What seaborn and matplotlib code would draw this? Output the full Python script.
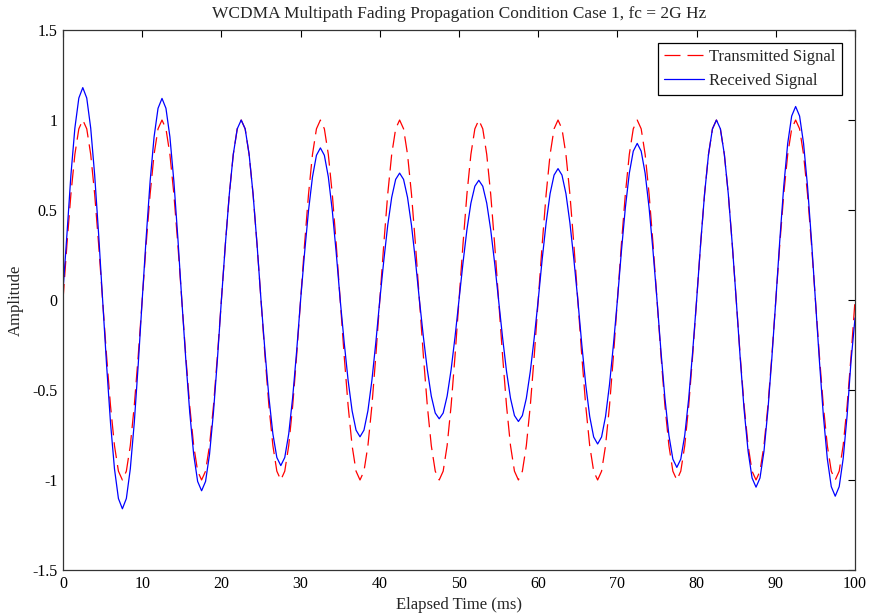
import numpy as np
import pandas as pd
import matplotlib
matplotlib.use("Agg")
import matplotlib.pyplot as plt
import seaborn as sns

# ---- data ----
time_ms = np.arange(0, 100.5, 0.5)

transmitted = [
    0.0, 0.309, 0.588, 0.809, 0.951, 1.0, 0.951, 0.809, 0.588, 0.309, 0.0, -0.309, -0.588, -0.809, -0.951, -1.0, -0.951, -0.809, -0.588, -0.309,
    0.0, 0.309, 0.588, 0.809, 0.951, 1.0, 0.951, 0.809, 0.588, 0.309, 0.0, -0.309, -0.588, -0.809, -0.951, -1.0, -0.951, -0.809, -0.588, -0.309,
    0.0, 0.309, 0.588, 0.809, 0.951, 1.0, 0.951, 0.809, 0.588, 0.309, 0.0, -0.309, -0.588, -0.809, -0.951, -1.0, -0.951, -0.809, -0.588, -0.309,
    0.0, 0.309, 0.588, 0.809, 0.951, 1.0, 0.951, 0.809, 0.588, 0.309, 0.0, -0.309, -0.588, -0.809, -0.951, -1.0, -0.951, -0.809, -0.588, -0.309,
    0.0, 0.309, 0.588, 0.809, 0.951, 1.0, 0.951, 0.809, 0.588, 0.309, 0.0, -0.309, -0.588, -0.809, -0.951, -1.0, -0.951, -0.809, -0.588, -0.309,
    0.0, 0.309, 0.588, 0.809, 0.951, 1.0, 0.951, 0.809, 0.588, 0.309, 0.0, -0.309, -0.588, -0.809, -0.951, -1.0, -0.951, -0.809, -0.588, -0.309,
    0.0, 0.309, 0.588, 0.809, 0.951, 1.0, 0.951, 0.809, 0.588, 0.309, 0.0, -0.309, -0.588, -0.809, -0.951, -1.0, -0.951, -0.809, -0.588, -0.309,
    0.0, 0.309, 0.588, 0.809, 0.951, 1.0, 0.951, 0.809, 0.588, 0.309, 0.0, -0.309, -0.588, -0.809, -0.951, -1.0, -0.951, -0.809, -0.588, -0.309,
    0.0, 0.309, 0.588, 0.809, 0.951, 1.0, 0.951, 0.809, 0.588, 0.309, 0.0, -0.309, -0.588, -0.809, -0.951, -1.0, -0.951, -0.809, -0.588, -0.309,
    0.0, 0.309, 0.588, 0.809, 0.951, 1.0, 0.951, 0.809, 0.588, 0.309, 0.0, -0.309, -0.588, -0.809, -0.951, -1.0, -0.951, -0.809, -0.588, -0.309,
    0.0,
]

received = [
    0.05, 0.365, 0.694, 0.955, 1.122, 1.18, 1.122, 0.955, 0.694, 0.365, 0.0, -0.358, -0.682, -0.938, -1.103, -1.16, -1.103, -0.938, -0.682, -0.358,
    0.0, 0.346, 0.659, 0.906, 1.065, 1.12, 1.065, 0.906, 0.659, 0.346, 0.0, -0.328, -0.623, -0.858, -1.008, -1.06, -1.008, -0.858, -0.623, -0.328,
    0.0, 0.309, 0.588, 0.809, 0.951, 1.0, 0.951, 0.809, 0.588, 0.309, 0.0, -0.284, -0.541, -0.744, -0.875, -0.92, -0.875, -0.744, -0.541, -0.284,
    0.0, 0.261, 0.497, 0.684, 0.804, 0.845, 0.804, 0.684, 0.497, 0.261, 0.0, -0.235, -0.447, -0.615, -0.723, -0.76, -0.723, -0.615, -0.447, -0.235,
    0.0, 0.218, 0.415, 0.570, 0.670, 0.705, 0.670, 0.570, 0.415, 0.218, 0.0, -0.204, -0.388, -0.534, -0.628, -0.66, -0.628, -0.534, -0.388, -0.204,
    0.0, 0.205, 0.391, 0.538, 0.632, 0.665, 0.632, 0.538, 0.391, 0.205, 0.0, -0.209, -0.397, -0.546, -0.642, -0.675, -0.642, -0.546, -0.397, -0.209,
    0.0, 0.226, 0.429, 0.591, 0.694, 0.73, 0.694, 0.591, 0.429, 0.226, 0.0, -0.247, -0.470, -0.647, -0.761, -0.80, -0.761, -0.647, -0.470, -0.247,
    0.0, 0.269, 0.512, 0.704, 0.827, 0.87, 0.827, 0.704, 0.512, 0.269, 0.0, -0.287, -0.547, -0.752, -0.884, -0.93, -0.884, -0.752, -0.547, -0.287,
    0.0, 0.309, 0.588, 0.809, 0.951, 1.0, 0.951, 0.809, 0.588, 0.309, 0.0, -0.321, -0.612, -0.841, -0.989, -1.04, -0.989, -0.841, -0.612, -0.321,
    0.0, 0.332, 0.632, 0.870, 1.022, 1.075, 1.022, 0.870, 0.632, 0.332, 0.0, -0.337, -0.641, -0.882, -1.037, -1.09, -1.037, -0.882, -0.641, -0.337,
    -0.1,
]

series_names = ["Transmitted Signal", "Received Signal"]
x_ticks = [0, 10, 20, 30, 40, 50, 60, 70, 80, 90, 100]
y_ticks = [-1.5, -1, -0.5, 0, 0.5, 1, 1.5]
y_tick_labels = ["-1.5", "-1", "-0.5", "0", "0.5", "1", "1.5"]

df_tx = pd.DataFrame({"t": time_ms, "amp": transmitted})
df_rx = pd.DataFrame({"t": time_ms, "amp": received})

# ---- style ----
sns.set_style("white")
plt.rcParams["font.family"] = ["Liberation Serif", "DejaVu Serif"]
plt.rcParams["axes.unicode_minus"] = False

fig = plt.figure(figsize=(8.7, 6.14), dpi=100)
ax = fig.add_axes([0.0724, 0.0717, 0.9104, 0.8794])

sns.lineplot(data=df_tx, x="t", y="amp", ax=ax, color="#ff0000", lw=0.9,
             linestyle=(0, (12.8, 5.6)), label=series_names[0], estimator=None, sort=False)
sns.lineplot(data=df_rx, x="t", y="amp", ax=ax, color="#0000ff", lw=0.9,
             label=series_names[1], estimator=None, sort=False)

ax.set_xlim(0, 100)
ax.set_ylim(-1.5, 1.5)
ax.set_xticks(x_ticks)
ax.set_xticklabels([str(v) for v in x_ticks])
ax.set_yticks(y_ticks)
ax.set_yticklabels(y_tick_labels)
ax.tick_params(direction="in", length=5, width=0.8, colors="black",
               top=True, right=True, labelsize=11.5, pad=4)

for sp in ax.spines.values():
    sp.set_color("#333333")
    sp.set_linewidth(0.9)

ax.set_title("WCDMA Multipath Fading Propagation Condition Case 1, fc = 2G Hz",
             fontsize=12.5, pad=9)
ax.set_xlabel("Elapsed Time (ms)", fontsize=12, labelpad=4)
ax.set_ylabel("Amplitude", fontsize=12, labelpad=6)

leg = ax.legend(loc="upper right", fontsize=12, frameon=True, fancybox=False,
                handlelength=2.4, borderpad=0.35, labelspacing=0.45,
                borderaxespad=0.8, handletextpad=0.35)
leg.get_frame().set_edgecolor("black")
leg.get_frame().set_linewidth(0.9)
leg.get_frame().set_alpha(1)

fig.savefig("out.png", dpi=100, facecolor="white")
